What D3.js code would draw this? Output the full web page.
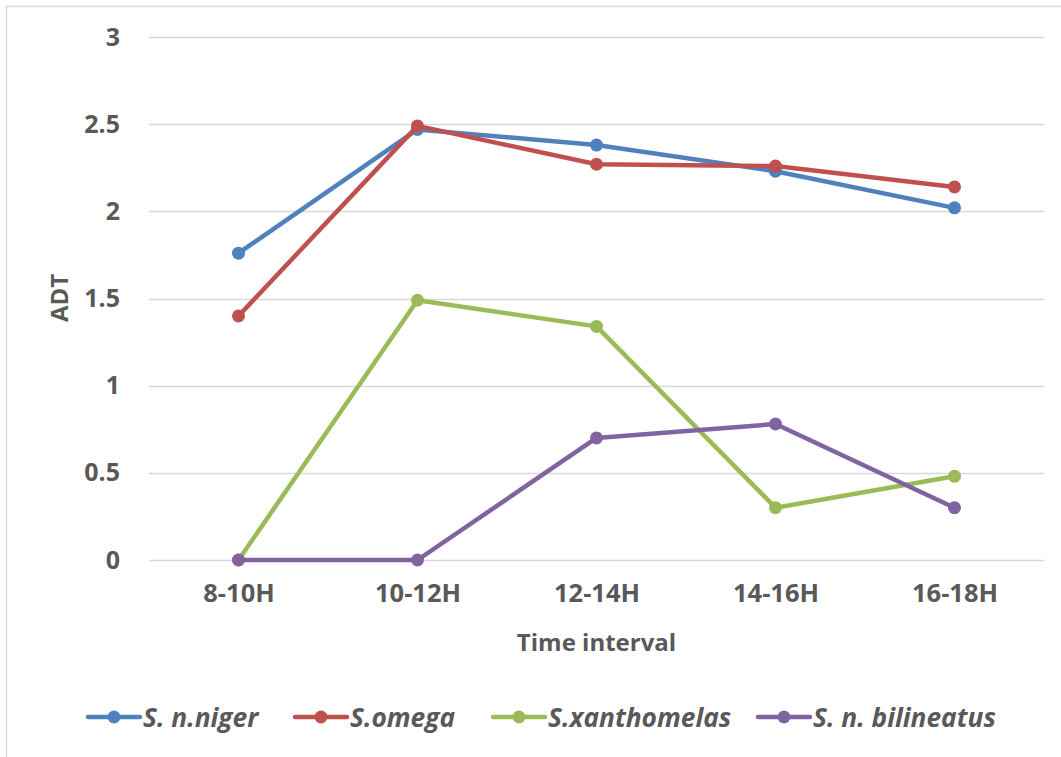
<!DOCTYPE html>
<html>
<head>
<meta charset="utf-8">
<script src="https://cdn.jsdelivr.net/npm/d3@7"></script>
<style>
  html, body { margin: 0; padding: 0; background: #fff; }
  svg { display: block; }
  text { font-family: "Open Sans", Lato, "Liberation Sans", sans-serif; fill: #595959; }
</style>
</head>
<body>
<svg id="chart" width="1061" height="757"></svg>
<script>
// Time intervals on the x axis
const categories = ["8-10H", "10-12H", "12-14H", "14-16H", "16-18H"];

// ADT per species and interval
const nigerValues       = [1.76, 2.47, 2.38, 2.23, 2.02];
const omegaValues       = [1.40, 2.49, 2.27, 2.26, 2.14];
const xanthomelasValues = [0.00, 1.49, 1.34, 0.30, 0.48];
const bilineatusValues  = [0.00, 0.00, 0.70, 0.78, 0.30];

const seriesNames = ["S. n.niger", "S.omega", "S.xanthomelas", "S. n. bilineatus"];
const yTicks = [0, 0.5, 1, 1.5, 2, 2.5, 3];

const series = [
  { name: seriesNames[0], values: nigerValues,       color: "#4F81BD" },
  { name: seriesNames[1], values: omegaValues,       color: "#C0504D" },
  { name: seriesNames[2], values: xanthomelasValues, color: "#9BBB59" },
  { name: seriesNames[3], values: bilineatusValues,  color: "#8064A2" }
];

const FONT = "'Open Sans', Lato, sans-serif";
const svg = d3.select("#chart");

// chart frame (top and left edges)
svg.append("path")
  .attr("d", "M6.5,757 V6.5 H1061")
  .attr("fill", "none")
  .attr("stroke", "#D9D9D9")
  .attr("stroke-width", 1.5);

const plot = { left: 149, right: 1044, top: 37, bottom: 560 };

const x = d3.scalePoint()
  .domain(categories)
  .range([plot.left, plot.right])
  .padding(0.5);

const y = d3.scaleLinear()
  .domain([0, 3])
  .range([plot.bottom, plot.top]);

// horizontal gridlines
svg.append("g")
  .selectAll("line")
  .data(yTicks)
  .join("line")
  .attr("x1", plot.left)
  .attr("x2", plot.right)
  .attr("y1", d => Math.round(y(d)) + 0.5)
  .attr("y2", d => Math.round(y(d)) + 0.5)
  .attr("stroke", "#D9D9D9")
  .attr("stroke-width", 1.5);

// y axis labels
const yAxis = d3.axisLeft(y).tickValues(yTicks).tickSize(0).tickPadding(0)
  .tickFormat(d3.format("~g"));
const gy = svg.append("g").attr("transform", "translate(120,0)").call(yAxis);
gy.select(".domain").remove();
gy.selectAll("text")
  .attr("font-size", 25).attr("font-weight", "bold")
  .attr("font-family", FONT)
  .attr("fill", "#595959");

// x axis labels
const xAxis = d3.axisBottom(x).tickSize(0).tickPadding(0);
const gx = svg.append("g").attr("transform", "translate(0,584)").call(xAxis);
gx.select(".domain").remove();
gx.selectAll("text")
  .attr("font-size", 25.5).attr("font-weight", "bold")
  .attr("font-family", FONT)
  .attr("fill", "#595959");

// axis titles
svg.append("text")
  .attr("x", (plot.left + plot.right) / 2)
  .attr("y", 651)
  .attr("text-anchor", "middle")
  .attr("font-size", 24).attr("font-weight", "bold")
  .text("Time interval");

svg.append("text")
  .attr("transform", "translate(68,298) rotate(-90)")
  .attr("text-anchor", "middle")
  .attr("font-size", 24).attr("font-weight", "bold")
  .text("ADT");

// series lines and markers
const line = d3.line()
  .x((d, i) => x(categories[i]))
  .y(d => y(d));

const gs = svg.append("g")
  .selectAll("g")
  .data(series)
  .join("g");

gs.append("path")
  .attr("d", d => line(d.values))
  .attr("fill", "none")
  .attr("stroke", d => d.color)
  .attr("stroke-width", 4.5)
  .attr("stroke-linejoin", "round")
  .attr("stroke-linecap", "round");

gs.selectAll("circle")
  .data(d => d.values.map((v, i) => ({ v, i, color: d.color })))
  .join("circle")
  .attr("cx", d => x(categories[d.i]))
  .attr("cy", d => y(d.v))
  .attr("r", 6.5)
  .attr("fill", d => d.color);

// legend
const legendX = [88, 295, 493, 758];
const legendY = 717;
const lg = svg.append("g")
  .selectAll("g")
  .data(series)
  .join("g")
  .attr("transform", (d, i) => `translate(${legendX[i]},${legendY})`);

lg.append("line")
  .attr("x1", 0).attr("x2", 52)
  .attr("stroke", d => d.color)
  .attr("stroke-width", 4.5)
  .attr("stroke-linecap", "round");

lg.append("circle")
  .attr("cx", 26).attr("r", 6.5)
  .attr("fill", d => d.color);

lg.append("text")
  .attr("x", 55)
  .attr("y", 9.5)
  .attr("font-size", 26.3)
  .attr("font-weight", "bold")
  .attr("font-style", "italic")
  .text(d => d.name);
</script>
</body>
</html>
